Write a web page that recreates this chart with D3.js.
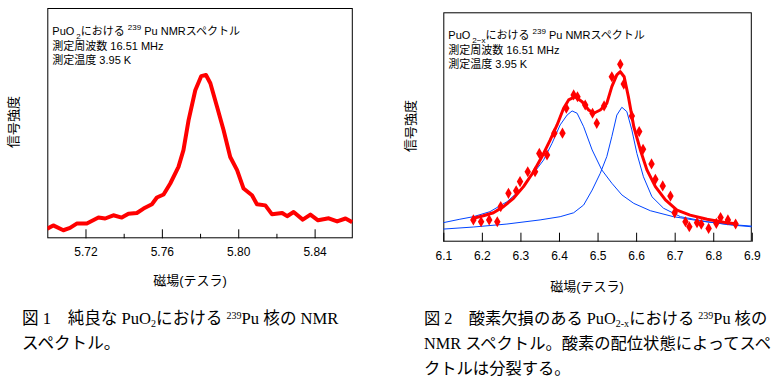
<!DOCTYPE html>
<html>
<head>
<meta charset="utf-8">
<script src="https://cdn.jsdelivr.net/npm/d3@7"></script>
<style>
  body { margin: 0; background: #fff; }
  text { font-family: "Liberation Sans", Arial, "Noto Sans CJK JP", sans-serif; }
  .cap { font-family: "Liberation Serif", "Noto Sans CJK JP", serif; }
</style>
</head>
<body>
<script>
// 図1: 純良な PuO2 (磁場[T], 信号強度)
var field1 = [5.700, 5.7031, 5.7084, 5.7119, 5.7154, 5.7207, 5.7268, 5.7303, 5.7346, 5.7390,
              5.7425, 5.7469, 5.7504, 5.7548, 5.7574, 5.7609, 5.7644, 5.7687, 5.7713, 5.7740,
              5.7775, 5.7806, 5.7831, 5.7854, 5.7889, 5.7923, 5.7958, 5.7994, 5.8028, 5.8072,
              5.8098, 5.8142, 5.8177, 5.8230, 5.8256, 5.8290, 5.8338, 5.8378, 5.8418, 5.8474,
              5.8518, 5.8562, 5.8597];
var signal1 = [4.2, 5.6, 3.5, 4.5, 6.4, 6.4, 9.0, 8.6, 10.0, 9.0,
               10.7, 11.0, 12.9, 14.8, 17.7, 19.0, 23.8, 31.0, 38.3, 51.3,
               64.3, 70.4, 70.9, 67.3, 57.1, 47.0, 35.3, 29.6, 21.6, 18.7,
               14.8, 14.3, 10.4, 11.0, 9.6, 11.4, 8.1, 10.3, 7.8, 8.7,
               7.3, 8.6, 7.0];
var ticks1 = [5.72, 5.76, 5.80, 5.84];
var minor1 = [5.74, 5.78, 5.82];

// 図2: 酸素欠損のある PuO2-x 測定点
var field2 = [6.178, 6.198, 6.219, 6.240, 6.249, 6.269, 6.289, 6.299, 6.319, 6.338,
              6.349, 6.369, 6.388, 6.409, 6.419, 6.438, 6.448, 6.468, 6.487, 6.498,
              6.517, 6.537, 6.559, 6.568, 6.589, 6.608, 6.618, 6.640, 6.650, 6.669,
              6.689, 6.700, 6.728, 6.738, 6.758, 6.769, 6.788, 6.808, 6.819, 6.838, 6.858];
var signal2 = [9.5, 8.7, 9.5, 8.7, 15.3, 21.1, 22.2, 26.2, 30.5, 30.5,
               38.5, 37.8, 47.3, 47.3, 58.2, 64.0, 63.2, 59.6, 56.0, 51.6,
               59.2, 71.9, 77.3, 68.7, 54.8, 48.0, 40.3, 33.9, 27.2, 24.3,
               19.9, 12.6, 8.7, 6.5, 8.3, 7.6, 5.8, 8.0, 10.5, 9.5, 7.7];
// フィット曲線 (赤)
var fitField = [6.178, 6.204, 6.230, 6.256, 6.282, 6.308, 6.334, 6.356, 6.377, 6.395,
                6.412, 6.425, 6.442, 6.460, 6.477, 6.490, 6.507, 6.524, 6.537, 6.550,
                6.559, 6.569, 6.580, 6.594, 6.611, 6.628, 6.650, 6.676, 6.706, 6.740,
                6.784, 6.827, 6.862];
var fitSignal = [10.2, 11.3, 12.6, 15.3, 18.9, 24.0, 30.5, 37.1, 44.3, 50.9,
                 58.2, 61.8, 63.2, 61.0, 57.4, 56.0, 57.4, 60.3, 67.6, 72.7,
                 74.1, 71.9, 63.2, 50.1, 40.0, 31.3, 24.0, 18.2, 13.8, 11.6,
                 9.8, 8.5, 7.7];
// 成分1 (青, 低磁場側)
var compAField = [6.100, 6.143, 6.178, 6.221, 6.265, 6.299, 6.334, 6.360, 6.382, 6.403,
                  6.421, 6.434, 6.447, 6.464, 6.486, 6.511, 6.537, 6.563, 6.594, 6.637,
                  6.697, 6.767, 6.836, 6.900];
var compASignal = [8.3, 9.8, 10.9, 13.1, 17.4, 22.5, 29.8, 35.6, 42.9, 50.9,
                   55.2, 57.0, 56.0, 50.1, 40.0, 31.3, 25.5, 20.4, 16.7, 13.5,
                   10.9, 9.0, 7.6, 6.8];
// 成分2 (青, 高磁場側)
var compBField = [6.100, 6.178, 6.265, 6.351, 6.403, 6.438, 6.464, 6.486, 6.507, 6.524,
                  6.537, 6.550, 6.563, 6.576, 6.589, 6.602, 6.619, 6.641, 6.671, 6.715,
                  6.784, 6.845, 6.900];
var compBSignal = [5.5, 6.4, 7.7, 9.5, 10.9, 12.6, 16.0, 22.5, 29.8, 37.1,
                   45.8, 55.2, 58.6, 56.7, 48.7, 38.5, 28.3, 19.6, 14.6, 10.9,
                   8.7, 7.3, 6.5];
var ticks2 = [6.1, 6.2, 6.3, 6.4, 6.5, 6.6, 6.7, 6.8, 6.9];

var red = "#ff0000", blue = "#0044ff";

var svg = d3.select("body").append("svg")
  .attr("width", 777)
  .attr("height", 388);

function zip(xs, ys) { return xs.map(function(x, i) { return [x, ys[i]]; }); }

function panel(o) {
  var x = d3.scaleLinear().domain(o.xDomain).range([o.left, o.right]);
  var y = d3.scaleLinear().domain([0, 100]).range([o.bottom, o.top]);
  var g = svg.append("g");

  g.append("clipPath").attr("id", o.id)
    .append("rect")
    .attr("x", o.left).attr("y", o.top)
    .attr("width", o.right - o.left).attr("height", o.bottom - o.top);

  // 軸 (目盛りは内向き)
  var ax = g.append("g")
    .attr("transform", "translate(0," + o.bottom + ")")
    .call(d3.axisBottom(x).tickValues(o.ticks).tickSizeInner(-9).tickSizeOuter(0)
      .tickPadding(o.pad).tickFormat(o.fmt));
  ax.select(".domain").remove();
  ax.selectAll("line").attr("stroke", "#000");
  ax.selectAll("text").style("font-size", "12px").attr("fill", "#000");

  if (o.minor) {
    g.append("g")
      .attr("transform", "translate(0," + o.bottom + ")")
      .call(d3.axisBottom(x).tickValues(o.minor).tickSizeInner(-4.5).tickSizeOuter(0).tickFormat(""))
      .call(function(s) { s.select(".domain").remove(); });
  }

  g.append("rect")
    .attr("x", o.left + 0.5).attr("y", o.top + 0.5)
    .attr("width", o.right - o.left - 1).attr("height", o.bottom - o.top - 1)
    .attr("fill", "none").attr("stroke", "#000").attr("stroke-width", 1);

  g.append("text")
    .attr("x", (o.left + o.right) / 2 + o.xtOff)
    .attr("y", o.xtY)
    .attr("text-anchor", "middle")
    .style("font-size", "13px")
    .text("磁場(テスラ)");

  g.append("text")
    .attr("transform", "translate(" + o.ytX + "," + o.ytY + ") rotate(-90)")
    .attr("text-anchor", "middle")
    .style("font-size", "13px")
    .text("信号強度");

  // 注記
  var t = g.append("text").attr("x", o.left + 5).attr("y", o.top + 27).style("font-size", "11px");
  t.append("tspan").text("PuO");
  t.append("tspan").attr("dx", 2).attr("dy", 4).style("font-size", "8px").text(o.sub);
  t.append("tspan").attr("dy", -4).text("における ");
  t.append("tspan").attr("dy", -5).style("font-size", "8px").text("239");
  t.append("tspan").attr("dy", 5).text(" Pu NMRスペクトル");
  g.append("text").attr("x", o.left + 5).attr("y", o.top + 42).style("font-size", "11px")
    .text("測定周波数 16.51 MHz");
  g.append("text").attr("x", o.left + 5).attr("y", o.top + 56).style("font-size", "11px")
    .text("測定温度 3.95 K");

  return { g: g, x: x, y: y };
}

var line = function(p) {
  return d3.line().x(function(d) { return p.x(d[0]); }).y(function(d) { return p.y(d[1]); });
};

// 図1
var p1 = panel({
  id: "c1", xDomain: [5.70, 5.86], left: 47.3, right: 352.8, top: 8, bottom: 238.3,
  ticks: ticks1, minor: minor1, fmt: d3.format(".2f"), pad: 9,
  xtOff: -10, xtY: 285, ytX: 17.5, ytY: 122, sub: "2"
});
p1.g.append("path")
  .datum(zip(field1, signal1))
  .attr("clip-path", "url(#c1)")
  .attr("d", line(p1))
  .attr("fill", "none").attr("stroke", red).attr("stroke-width", 4)
  .attr("stroke-linejoin", "round");

// 図2
var p2 = panel({
  id: "c2", xDomain: [6.1, 6.9], left: 443.3, right: 751.8, top: 12.3, bottom: 241.7,
  ticks: ticks2, minor: null, fmt: d3.format(".1f"), pad: 10,
  xtOff: -10.5, xtY: 291, ytX: 414.5, ytY: 126, sub: "2−x"
});
[[compAField, compASignal], [compBField, compBSignal]].forEach(function(c) {
  p2.g.append("path")
    .datum(zip(c[0], c[1]))
    .attr("clip-path", "url(#c2)")
    .attr("d", line(p2))
    .attr("fill", "none").attr("stroke", blue).attr("stroke-width", 1);
});
p2.g.append("path")
  .datum(zip(fitField, fitSignal))
  .attr("clip-path", "url(#c2)")
  .attr("d", line(p2))
  .attr("fill", "none").attr("stroke", red).attr("stroke-width", 3)
  .attr("stroke-linejoin", "round");
p2.g.selectAll(".pt")
  .data(zip(field2, signal2))
  .join("path")
  .attr("class", "pt")
  .attr("transform", function(d) { return "translate(" + p2.x(d[0]) + "," + p2.y(d[1]) + ")"; })
  .attr("d", d3.symbol().type(d3.symbolDiamond).size(36))
  .attr("fill", red);

// キャプション
function caption(x, y, parts, size) {
  var t = svg.append("text").attr("class", "cap").attr("x", x).attr("y", y).style("font-size", size + "px");
  parts.forEach(function(p) {
    var s = t.append("tspan").text(p[0]);
    if (p[1] === "sub") s.attr("dy", 3).style("font-size", "10px");
    if (p[1] === "sup") s.attr("dy", -5).style("font-size", "10px");
    if (p[1] === "up") s.attr("dy", -3);
    if (p[1] === "down") s.attr("dy", 5);
  });
  return t;
}
caption(22, 324, [["図 1　純良な PuO"], ["2", "sub"], ["における ", "up"], ["239", "sup"], ["Pu 核の NMR", "down"]], 16.6);
caption(22, 349, [["スペクトル。"]], 16.6);
caption(424, 324, [["図 2　酸素欠損のある PuO"], ["2-x", "sub"], ["における ", "up"], ["239", "sup"], ["Pu 核の", "down"]], 16.3);
caption(424, 349, [["NMR スペクトル。酸素の配位状態によってスペ"]], 16.3);
caption(424, 374, [["クトルは分裂する。"]], 16.3);
</script>
</body>
</html>
